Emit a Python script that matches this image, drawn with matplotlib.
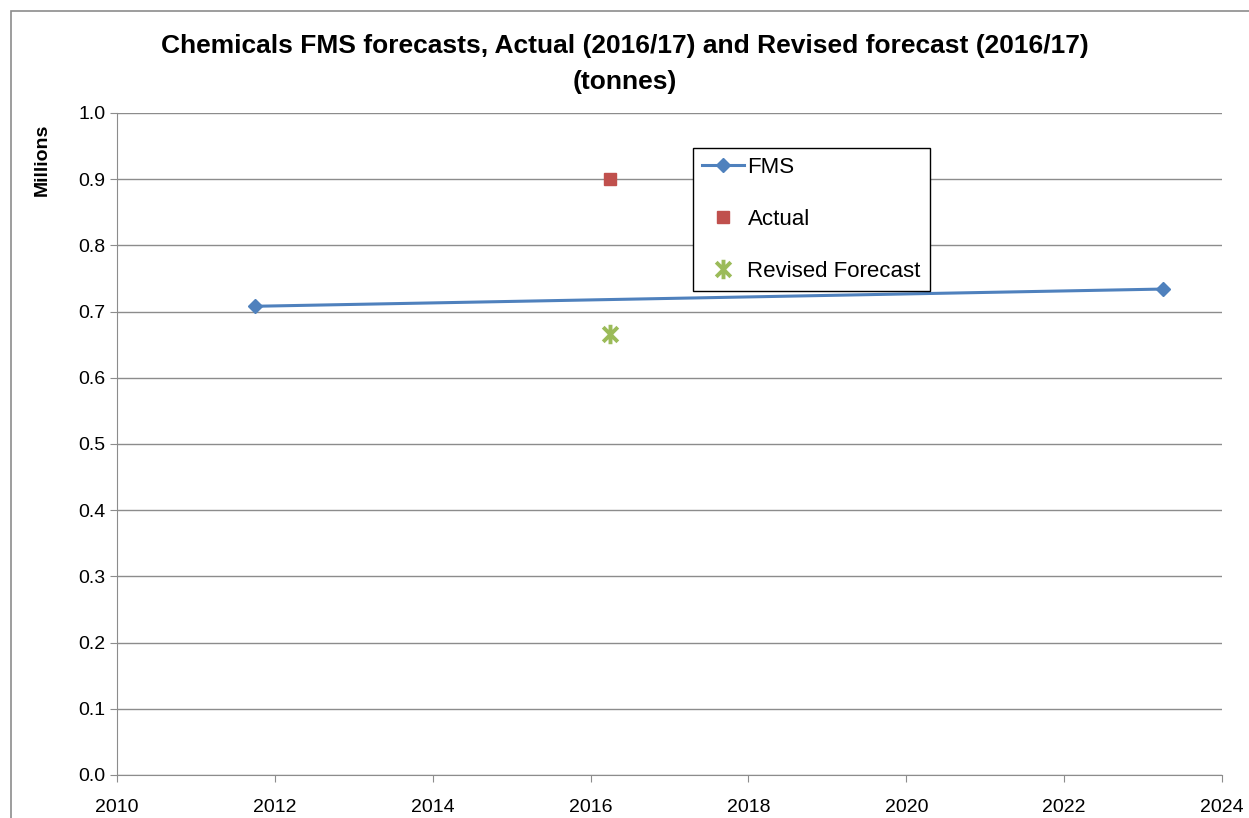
import matplotlib.pyplot as plt
from matplotlib.patches import Rectangle
from matplotlib.path import Path

plt.rcParams['font.family'] = ['Liberation Sans Narrow', 'Liberation Sans', 'DejaVu Sans']

# data (tonnes, millions)
fms_years = [2011.75, 2023.25]
fms_values = [0.708, 0.734]
actual_years = [2016.25]
actual_values = [0.900]
revised_years = [2016.25]
revised_values = [0.666]

xticks = [2010, 2012, 2014, 2016, 2018, 2020, 2022, 2024]
yticks = [0.0, 0.1, 0.2, 0.3, 0.4, 0.5, 0.6, 0.7, 0.8, 0.9, 1.0]

# Excel-style star: an X with a vertical bar
star = Path([(0, -1), (0, 1), (-0.75, -0.75), (0.75, 0.75), (-0.75, 0.75), (0.75, -0.75)],
            [Path.MOVETO, Path.LINETO] * 3)

fig = plt.figure(figsize=(12.49, 8.18), dpi=100)
ax = fig.add_axes([0.0937, 0.0526, 0.8847, 0.8093])

# outer chart border
fig.patches.append(Rectangle((11 / 1249, -0.1), 1.2, 1 - 11 / 818 + 0.1,
                             transform=fig.transFigure, fill=False,
                             edgecolor='#8c8c8c', linewidth=1.2))

ax.plot(fms_years, fms_values, color='#4F81BD', linewidth=2.2,
        marker='D', markersize=7, label='FMS')
ax.plot(actual_years, actual_values, linestyle='none', color='#C0504D',
        marker='s', markersize=9, label='Actual')
ax.plot(revised_years, revised_values, linestyle='none', color='#9BBB59',
        marker=star, markersize=14, markeredgewidth=2.8,
        label='Revised Forecast')

ax.set_xlim(2010, 2024)
ax.set_ylim(0, 1.0)
ax.set_xticks(xticks)
ax.set_yticks(yticks)
ax.set_yticklabels([f'{v:.1f}' for v in yticks])
ax.tick_params(labelsize=14, direction='out', length=5, color='#8c8c8c')
ax.tick_params(axis='x', pad=12)

ax.grid(axis='y', color='#8c8c8c', linewidth=1)
ax.set_axisbelow(True)
for s in ['top', 'right']:
    ax.spines[s].set_visible(False)
ax.spines['left'].set_color('#8c8c8c')
ax.spines['bottom'].set_color('#8c8c8c')

fig.text(0.5, 1 - 46 / 818, 'Chemicals FMS forecasts, Actual (2016/17) and Revised forecast (2016/17)',
         ha='center', va='center', fontsize=19, fontweight='bold')
fig.text(0.5, 1 - 82 / 818, '(tonnes)', ha='center', va='center',
         fontsize=19, fontweight='bold')
fig.text(42 / 1249, 1 - 160 / 818, 'Millions', rotation=90, ha='center',
         va='center', fontsize=14, fontweight='bold')

leg = ax.legend(loc='upper left', bbox_to_anchor=((693 - 117) / 1105, (775 - 148) / 662),
                borderaxespad=0, fontsize=16, fancybox=False, edgecolor='black',
                framealpha=1, borderpad=0.4, labelspacing=1.4, handlelength=1.9,
                handletextpad=0.15)
leg.get_frame().set_linewidth(1)

fig.savefig('out.png', dpi=100)
